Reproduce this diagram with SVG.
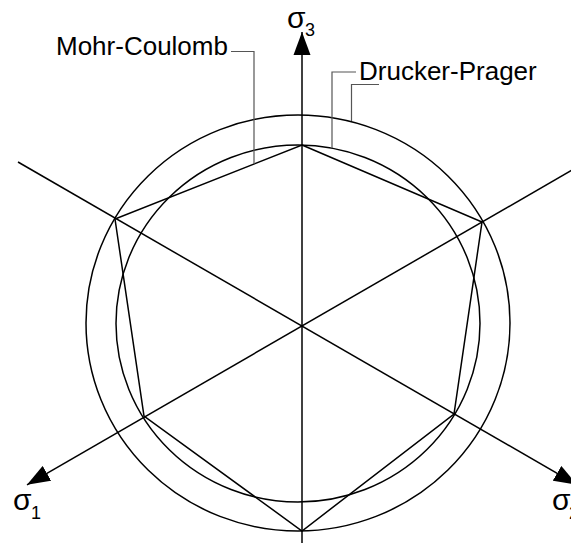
<svg xmlns="http://www.w3.org/2000/svg" width="571" height="543" viewBox="0 0 571 543">
<style>
.ln{fill:none;stroke:#000;stroke-width:1.5}
.ld{fill:none;stroke:#555;stroke-width:1.2}
.t{font-family:"Liberation Sans",Arial,sans-serif;fill:#000}
.lab{font-size:26px}
.sg{font-size:30px}
.sub{font-size:18px}
</style>
<defs>
<marker id="arr" markerUnits="userSpaceOnUse" markerWidth="24" markerHeight="18" viewBox="0 0 24 18" refX="23" refY="9" orient="auto">
<path d="M0,0.5 L23,9 L0,17.5 Z" fill="#000"/>
</marker>
</defs>
<rect width="571" height="543" fill="#fff"/>
<g id="drucker-prager-outer"><ellipse class="ln" cx="298" cy="323" rx="212" ry="208"/></g>
<g id="drucker-prager-inner"><ellipse class="ln" cx="298" cy="323.5" rx="182" ry="178.5"/></g>
<g id="mohr-coulomb"><polygon class="ln" points="302,145 482,222 454,414 302,531 144,416 115,219"/></g>
<g id="connectors">
<line class="ln" x1="302" y1="543" x2="302" y2="32" marker-end="url(#arr)"/>
<line class="ln" x1="586" y1="162" x2="27" y2="484.8" marker-end="url(#arr)"/>
<line class="ln" x1="18" y1="162" x2="577" y2="484.8" marker-end="url(#arr)"/>
<polyline class="ld" points="231,51.5 254,51.5 254,164"/>
<polyline class="ld" points="356,72 332,72 332,148"/>
<polyline class="ld" points="379,84.5 351.5,84.5 351.5,121"/>
</g>
<g id="label-mohr-coulomb"><text class="t lab" x="56" y="55">Mohr-Coulomb</text></g>
<g id="label-drucker-prager"><text class="t lab" x="359" y="80">Drucker-Prager</text></g>
<g id="label-sigma3"><text class="t sg" x="287" y="28">σ</text><text class="t sub" x="305" y="36">3</text></g>
<g id="label-sigma1"><text class="t sg" x="13" y="510">σ</text><text class="t sub" x="31" y="519">1</text></g>
<g id="label-sigma2"><text class="t sg" x="552" y="510">σ</text><text class="t sub" x="569" y="519">2</text></g>
</svg>
